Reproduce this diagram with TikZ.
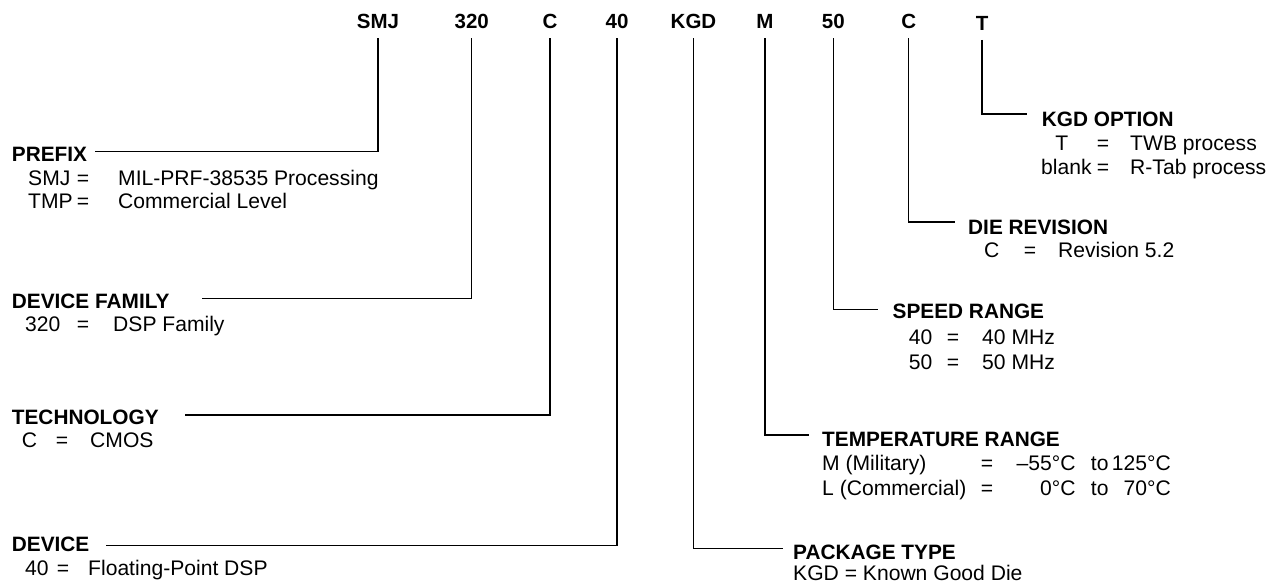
\documentclass[tikz,border=0pt]{standalone}
\usepackage{fontspec}
\setmainfont{Liberation Sans}
\begin{document}
\begin{tikzpicture}[x=1pt,y=-1pt,
  txt/.style={inner sep=0pt, anchor=base west, font=\fontsize{21.1}{24}\selectfont},
  eq/.style={inner sep=0pt, anchor=base, font=\fontsize{21.1}{24}\selectfont},
  hd/.style={inner sep=0pt, anchor=base west, font=\fontsize{20.8}{24}\selectfont\bfseries},
  toplbl/.style={inner sep=0pt, anchor=base, font=\fontsize{20.5}{24}\selectfont\bfseries},
  ln/.style={line width=1.2pt, line join=miter, black}]
\useasboundingbox (0,0) rectangle (1268,583);

% top code letters
\node[toplbl] (tSMJ) at (378,28.3) {SMJ};
\node[toplbl] (t320) at (471.7,28.3) {320};
\node[toplbl] (tC) at (550,28.3) {C};
\node[toplbl] (t40) at (617,28.3) {40};
\node[toplbl] (tKGD) at (693.5,28.3) {KGD};
\node[toplbl] (tM) at (765,28.3) {M};
\node[toplbl] (t50) at (833.3,28.3) {50};
\node[toplbl] (tC2) at (908.7,28.3) {C};
\node[toplbl] (tT) at (982,30.7) {T};

% PREFIX
\node[hd] (prefix) at (11.7,161.7) {PREFIX};
\node[txt] (p1a) at (28,185.7) {SMJ};
\node[eq] (p1b) at (83,185.7) {=};
\node[txt] (p1c) at (118,185.7) {MIL-PRF-38535 Processing};
\node[txt] (p2a) at (28,208.5) {TMP};
\node[eq] (p2b) at (83,208.5) {=};
\node[txt] (p2c) at (118,208.5) {Commercial Level};

% DEVICE FAMILY
\node[hd] (family) at (11.7,308.3) {DEVICE FAMILY};
\node[txt] (f1a) at (25,331.7) {320};
\node[eq] (f1b) at (83,331.7) {=};
\node[txt] (f1c) at (113,331.7) {DSP Family};

% TECHNOLOGY
\node[hd] (tech) at (11.7,424) {TECHNOLOGY};
\node[txt] (c1a) at (21.7,447.3) {C};
\node[eq] (c1b) at (62,447.3) {=};
\node[txt] (c1c) at (90,447.3) {CMOS};

% DEVICE
\node[hd] (device) at (11.7,551.7) {DEVICE};
\node[txt] (d1a) at (25,575) {40};
\node[eq] (d1b) at (63,575) {=};
\node[txt] (d1c) at (88,575) {Floating-Point DSP};

% KGD OPTION
\node[hd] (kgdopt) at (1041.7,126) {KGD OPTION};
\node[eq] (k1a) at (1061.7,150.7) {T};
\node[eq] (k1b) at (1103,150.7) {=};
\node[txt] (k1c) at (1130,150.7) {TWB process};
\node[txt] (k2a) at (1041,174.3) {blank};
\node[eq] (k2b) at (1103,174.3) {=};
\node[txt] (k2c) at (1130,174.3) {R-Tab process};

% DIE REVISION
\node[hd] (dierev) at (968,234) {DIE REVISION};
\node[eq] (r1a) at (991.7,257.7) {C};
\node[eq] (r1b) at (1030,257.7) {=};
\node[txt] (r1c) at (1058,257.7) {Revision 5.2};

% SPEED RANGE
\node[hd] (speed) at (892.5,318.6) {SPEED RANGE};
\node[txt] (s1a) at (908.6,344.6) {40};
\node[eq] (s1b) at (953,344.6) {=};
\node[txt] (s1c) at (982,344.6) {40 MHz};
\node[txt] (s2a) at (908.6,369.6) {50};
\node[eq] (s2b) at (953,369.6) {=};
\node[txt] (s2c) at (982,369.6) {50 MHz};

% TEMPERATURE RANGE
\node[hd] (temp) at (822,446.4) {TEMPERATURE RANGE};
\node[txt] (m1a) at (822,470.7) {M (Military)};
\node[eq] (m1b) at (987,470.7) {=};
\node[txt, anchor=base east] (m1c) at (1075.7,470.7) {–55°C};
\node[txt] (m1d) at (1090.7,470.7) {to};
\node[txt, anchor=base east] (m1e) at (1171,470.7) {125°C};
\node[txt] (m2a) at (822,495.7) {L (Commercial)};
\node[eq] (m2b) at (987,495.7) {=};
\node[txt, anchor=base east] (m2c) at (1075.7,495.7) {0°C};
\node[txt] (m2d) at (1090.7,495.7) {to};
\node[txt, anchor=base east] (m2e) at (1171,495.7) {70°C};

% PACKAGE TYPE
\node[hd] (pkg) at (793,559.3) {PACKAGE TYPE};
\node[txt] (pk1) at (793,580) {KGD = Known Good Die};

% connector ends
\coordinate (ePrefix) at (95,151.7);
\coordinate (eFamily) at (201.7,298.3);
\coordinate (eTech) at (185,415);
\coordinate (eDevice) at (106,545.7);
\coordinate (ePkg) at (783,548.3);
\coordinate (eTemp) at (808.6,435);
\coordinate (eSpeed) at (878,309.6);
\coordinate (eDie) at (955,222);
\coordinate (eKgd) at (1027,114);

\draw[ln] ([yshift=-10pt]tSMJ.base) |- (ePrefix);
\draw[ln] ([yshift=-10pt]t320.base) |- (eFamily);
\draw[ln] ([yshift=-10pt]tC.base) |- (eTech);
\draw[ln] ([yshift=-10pt]t40.base) |- (eDevice);
\draw[ln] ([yshift=-10pt]tKGD.base) |- (ePkg);
\draw[ln] ([yshift=-10pt]tM.base) |- (eTemp);
\draw[ln] ([yshift=-10pt]t50.base) |- (eSpeed);
\draw[ln] ([yshift=-10pt]tC2.base) |- (eDie);
\draw[ln] ([yshift=-9.3pt]tT.base) |- (eKgd);
\end{tikzpicture}
\end{document}
